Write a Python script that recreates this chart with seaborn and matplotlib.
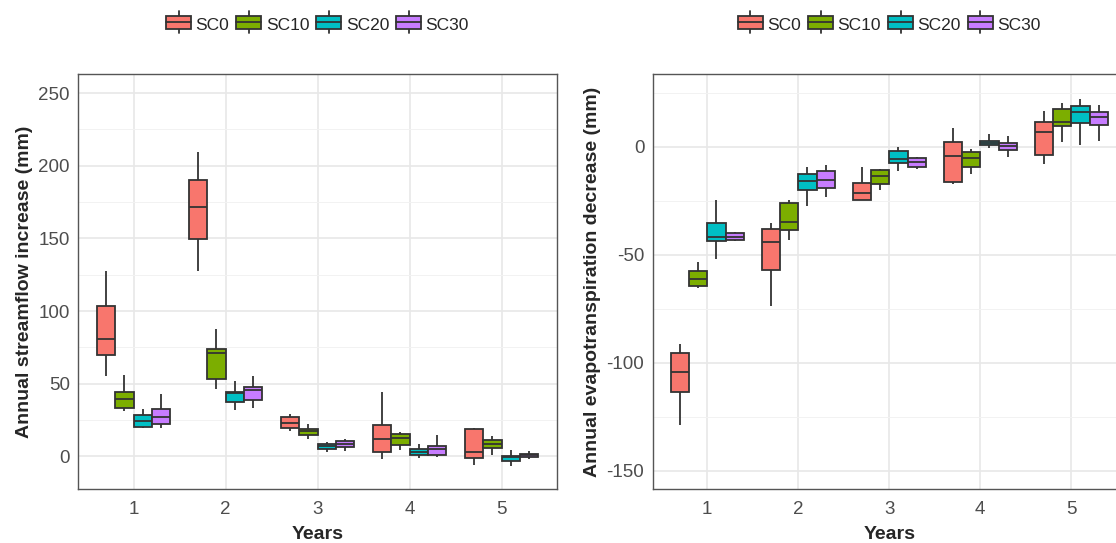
import numpy as np
import pandas as pd
import matplotlib
matplotlib.use("Agg")
import matplotlib.pyplot as plt
import seaborn as sns
from matplotlib.patches import Patch, Rectangle
from matplotlib.lines import Line2D
from matplotlib.legend_handler import HandlerBase
from matplotlib.ticker import MultipleLocator

sns.set_style("white")
plt.rcParams["font.family"] = ["Liberation Sans", "DejaVu Sans"]
plt.rcParams["axes.unicode_minus"] = False

years = [1, 2, 3, 4, 5]
scenarios = ["SC0", "SC10", "SC20", "SC30"]
colors = ["#F8766D", "#7CAE00", "#00BFC4", "#C77CFF"]

# Five-number summaries per year: [min, lower quartile, median, upper quartile, max]
streamflow_sc0 = [[55.3, 69.9, 80.5, 103.4, 127.5],
                  [127.5, 149.6, 171.8, 190.2, 209.2],
                  [17.6, 19.9, 22.7, 27.0, 28.9],
                  [-1.6, 3.0, 11.9, 21.3, 44.3],
                  [-6.0, -1.4, 2.8, 18.6, 19.5]]
streamflow_sc10 = [[31.4, 33.0, 39.6, 44.3, 56.2],
                   [46.1, 53.4, 70.9, 73.6, 87.8],
                   [11.7, 14.7, 17.6, 18.8, 22.4],
                   [4.3, 7.6, 12.8, 15.1, 16.5],
                   [0.7, 5.7, 8.7, 11.4, 14.2]]
streamflow_sc20 = [[19.3, 20.2, 24.3, 28.2, 32.5],
                   [32.1, 37.2, 43.3, 44.0, 52.0],
                   [3.2, 5.0, 7.3, 8.7, 10.0],
                   [-1.1, 0.7, 3.2, 4.8, 8.3],
                   [-6.4, -3.2, -0.7, 0.4, 4.1]]
streamflow_sc30 = [[19.3, 22.2, 27.0, 32.5, 42.7],
                   [33.0, 38.7, 45.4, 47.5, 55.3],
                   [3.6, 6.2, 8.4, 10.5, 11.7],
                   [-0.3, 0.7, 5.3, 7.1, 14.9],
                   [-1.6, -0.3, 0.7, 1.8, 3.4]]

et_sc0 = [[-128.8, -113.7, -104.3, -95.6, -91.3],
          [-73.6, -57.2, -44.0, -38.2, -35.3],
          [-24.7, -24.7, -21.6, -17.0, -9.3],
          [-17.1, -16.5, -4.4, 2.3, 8.5],
          [-7.9, -3.7, 6.9, 11.7, 16.5]]
et_sc10 = [[-65.6, -64.6, -61.3, -57.7, -53.2],
           [-43.3, -38.4, -35.0, -26.2, -24.7],
           [-20.0, -17.3, -13.6, -10.9, -10.2],
           [-12.8, -9.5, -5.4, -2.6, -1.2],
           [2.3, 9.4, 11.6, 17.6, 20.4]]
et_sc20 = [[-52.0, -43.8, -41.9, -35.5, -24.7],
           [-27.3, -20.0, -15.7, -12.5, -9.5],
           [-11.1, -7.7, -5.7, -1.9, 0.0],
           [-0.8, 0.6, 1.9, 2.6, 5.9],
           [0.8, 10.8, 16.1, 18.7, 21.9]]
et_sc30 = [[-43.5, -43.3, -41.7, -39.8, -39.5],
           [-23.1, -19.1, -15.3, -11.2, -8.6],
           [-10.3, -9.3, -7.2, -5.0, -4.9],
           [-4.8, -1.4, 0.3, 1.9, 5.1],
           [2.8, 9.9, 13.9, 15.9, 19.2]]


def to_frame(series_list):
    rows = []
    for name, series in zip(scenarios, series_list):
        for year, values in zip(years, series):
            for v in values:
                rows.append({"Years": year, "Scenario": name, "value": v})
    return pd.DataFrame(rows)


stream_df = to_frame([streamflow_sc0, streamflow_sc10, streamflow_sc20, streamflow_sc30])
et_df = to_frame([et_sc0, et_sc10, et_sc20, et_sc30])


class BoxKeyHandler(HandlerBase):
    """Legend key drawn as a small boxplot glyph."""
    def create_artists(self, legend, orig_handle, xdescent, ydescent,
                       width, height, fontsize, trans):
        x0, y0 = -xdescent, -ydescent
        h = height + ydescent
        kw = dict(color="#333333", linewidth=1.3, transform=trans)
        box = Rectangle((x0, y0 + 0.2 * h), width, 0.6 * h,
                        facecolor=orig_handle.get_facecolor(),
                        edgecolor="#333333", linewidth=1.3, transform=trans)
        med = Line2D([x0, x0 + width], [y0 + 0.5 * h] * 2, **kw)
        w1 = Line2D([x0 + width / 2] * 2, [y0, y0 + 0.2 * h], **kw)
        w2 = Line2D([x0 + width / 2] * 2, [y0 + 0.8 * h, y0 + h], **kw)
        return [w1, w2, box, med]


W, H = 1116, 543
fig = plt.figure(figsize=(W / 100, H / 100), dpi=100)
ax1 = fig.add_axes([78.3 / W, (H - 489) / H, (556.7 - 78.3) / W, 415 / H])
ax2 = fig.add_axes([652.7 / W, (H - 489) / H, (1125.9 - 652.7) / W, 415 / H])

panels = [
    (ax1, stream_df, "Annual streamflow increase (mm)", (-22.4, 263.1), 50),
    (ax2, et_df, "Annual evapotranspiration decrease (mm)", (-158.5, 33.7), 50),
]

for ax, df, ylabel, ylim, step in panels:
    sns.boxplot(data=df, x="Years", y="value", hue="Scenario",
                hue_order=scenarios, palette=colors, saturation=1,
                width=0.8, gap=0, whis=(0, 100), showcaps=False,
                linecolor="#333333", linewidth=1.3, legend=False, ax=ax)
    ax.set_xlim(-0.6, 4.6)
    ax.set_ylim(*ylim)
    ax.yaxis.set_major_locator(MultipleLocator(step))
    ax.yaxis.set_minor_locator(MultipleLocator(step / 2))
    ax.set_axisbelow(True)
    ax.grid(which="major", color="#E8E8E8", linewidth=1.2)
    ax.grid(which="minor", axis="y", color="#F2F2F2", linewidth=0.7)
    ax.tick_params(which="major", length=3, width=1, color="#333333",
                   labelcolor="#4D4D4D", labelsize=13.5, pad=3)
    ax.tick_params(axis="x", which="major", pad=5.5)
    ax.tick_params(which="minor", length=0)
    for s in ax.spines.values():
        s.set_color("#555555")
        s.set_linewidth(1.0)
    ax.set_xlabel("Years", fontsize=14, fontweight="bold", labelpad=6)
    ax.set_ylabel(ylabel, fontsize=14, fontweight="bold", labelpad=4)
    handles = [Patch(facecolor=c, label=n) for c, n in zip(colors, scenarios)]
    ax.legend(handles=handles, handler_map={Patch: BoxKeyHandler()},
              loc="center", bbox_to_anchor=(0.5, 1.12), ncol=4, frameon=False,
              fontsize=12.5, handlelength=1.45, handleheight=1.27,
              handletextpad=0.25, columnspacing=0.4, borderpad=0)

fig.savefig("out.png", dpi=100)
